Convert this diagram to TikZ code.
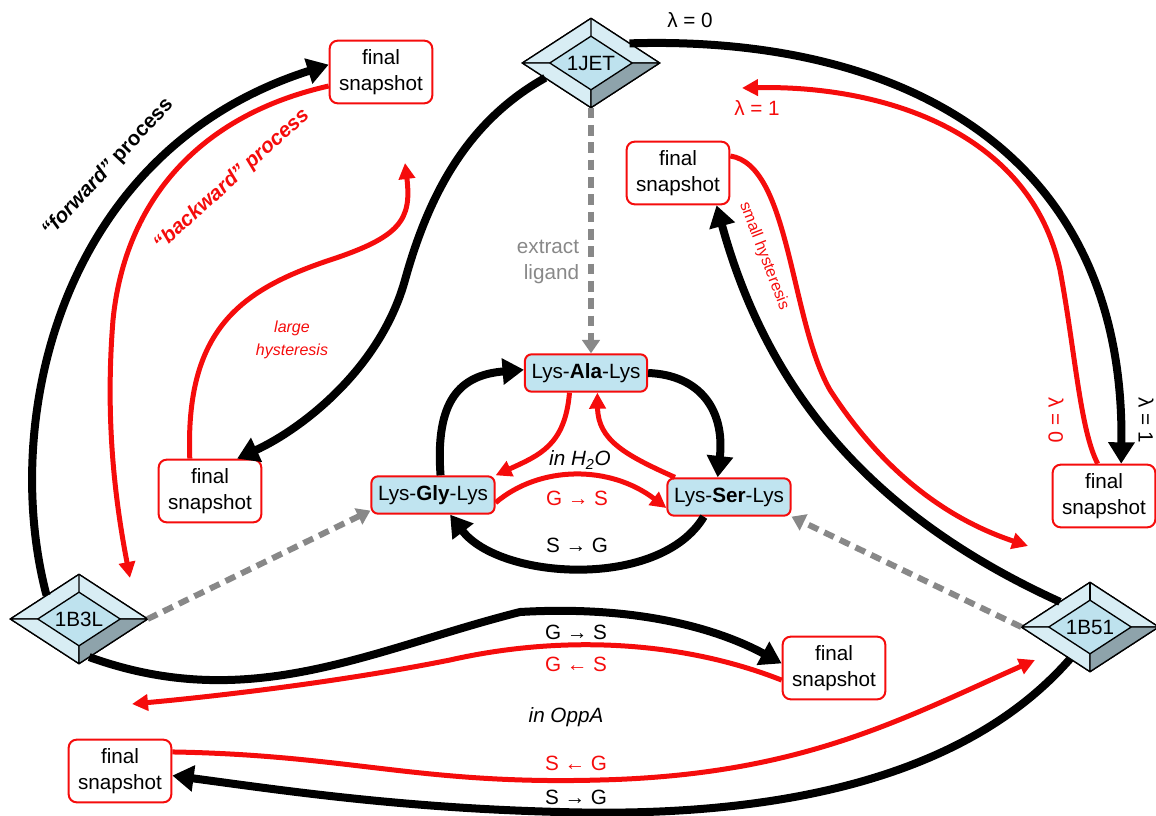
\documentclass[tikz,border=0pt]{standalone}
\usepackage{fontspec}
\setmainfont{Liberation Sans}
\usetikzlibrary{shapes.geometric, calc, arrows.meta}
\definecolor{snapred}{RGB}{245,12,12}
\definecolor{lysblue}{RGB}{192,228,240}
\definecolor{xtalin}{RGB}{190,226,238}
\definecolor{xtalface}{RGB}{216,237,244}
\definecolor{xtaldark}{RGB}{142,163,171}
\definecolor{ligandgray}{RGB}{136,136,136}

\begin{document}
\begin{tikzpicture}[x=0.75pt, y=-0.75pt, font=\fontsize{15.5}{19.5}\selectfont,
    snap/.style={draw=snapred, line width=1.5pt, rounded corners=6pt, fill=white,
      align=center, minimum width=77pt, minimum height=47pt, inner sep=2pt},
    lys/.style={draw=snapred, line width=1.5pt, rounded corners=5pt, fill=lysblue,
      minimum height=28pt, inner xsep=5pt},
    xtal/.style={diamond, draw, line width=1pt, fill=xtalin, minimum width=103pt,
      minimum height=67pt, inner sep=0pt, outer sep=0pt},
    blk/.style={line width=6pt, -{Triangle[length=16pt,width=19pt]}},
    rd/.style={snapred, line width=3.75pt, -{Triangle[length=12pt,width=12pt]}},
    lig/.style={ligandgray, line width=4.5pt, dash pattern=on 8pt off 5pt,
      -{Triangle[length=10pt,width=13pt]}},
    facet/.style={line width=1pt, line join=round}]

  \useasboundingbox (0,0) rectangle (1156,816);

  \node[snap] (snapTL) at (381,72) {final\\snapshot};
  \node[xtal] (jet) at (591,63) {1JET};
  \node[snap] (snapTR) at (678,173) {final\\snapshot};
  \node[lys] (ala) at (586,373) {Lys-\textbf{Ala}-Lys};
  \node[lys] (gly) at (433,495) {Lys-\textbf{Gly}-Lys};
  \node[lys] (ser) at (729,497) {Lys-\textbf{Ser}-Lys};
  \node[snap] (snapML) at (210,491) {final\\snapshot};
  \node[snap] (snapR) at (1104,496) {final\\snapshot};
  \node[xtal] (bthreel) at (79,619) {1B3L};
  \node[xtal] (bfiveone) at (1090,627) {1B51};
  \node[snap] (snapBM) at (834,668) {final\\snapshot};
  \node[snap] (snapBL) at (120,771) {final\\snapshot};

  % bevelled crystal structures
  \foreach \n in {jet,bthreel,bfiveone}{
    \foreach \a in {north,east,south,west}
      \coordinate (\n-\a) at ($(\n.center)!.6!(\n.\a)$);
    \filldraw[facet, fill=xtalface] (\n.west) -- (\n.north) -- (\n.east) -- (\n-east)
      -- (\n-north) -- (\n-west) -- cycle;
    \filldraw[facet, fill=xtalface] (\n.west) -- (\n.south) -- (\n-south) -- (\n-west) -- cycle;
    \filldraw[facet, fill=xtaldark] (\n.east) -- (\n.south) -- (\n-south) -- (\n-east) -- cycle;
    \draw[facet] (\n.north) -- (\n-north);
  }

  \coordinate (bwdend) at (130,578);
  \coordinate (largeend) at (405,163);
  \coordinate (lamend) at (742,88);
  \coordinate (smallend) at (1028,546);
  \coordinate (oppend) at (132,704);
  \coordinate (sgend) at (1035,660);

  \draw[blk] (bthreel.144) .. controls (0,420) and (60,150) .. (snapTL.172);
  \draw[rd] (snapTL.195) .. controls (200,115) and (125,200) .. (113,320)
    .. controls (105,420) and (115,500) .. (bwdend);
  \draw[blk] (jet.198) .. controls (470,120) and (430,190) .. (405,280)
    .. controls (380,370) and (300,430) .. (snapML.50);
  \draw[rd] (snapML.122) .. controls (185,330) and (240,290) .. (330,260)
    .. controls (400,237) and (412,220) .. (largeend);
  \draw[blk] (jet.27) .. controls (900,35) and (1125,150) .. (snapR.62);
  \draw[rd] (snapR.101) .. controls (1080,430) and (1075,350) .. (1060,270)
    .. controls (1030,130) and (880,85) .. (lamend);
  \draw[blk] (bfiveone.140) .. controls (880,520) and (770,400) .. (snapTR.-40);
  \draw[rd] (snapTR.18) .. controls (790,165) and (790,320) .. (830,390)
    .. controls (885,475) and (950,520) .. (smallend);

  \draw[lig] (jet.south) -- (jet.south |- ala.north);
  \draw[lig] (bthreel.east) -- (gly.194);
  \draw[lig] (bfiveone.west) -- (ser.south east);

  \draw[blk] (bthreel.-75) .. controls (250,715) and (370,650) .. (520,612)
    .. controls (640,605) and (720,630) .. (snapBM.175);
  \draw[rd] (snapBM.193) .. controls (680,640) and (560,635) .. (450,660)
    .. controls (350,680) and (230,695) .. (oppend);
  \draw[rd] (snapBL.20) .. controls (350,755) and (420,785) .. (600,780)
    .. controls (800,775) and (900,720) .. (sgend);
  \draw[blk] (bfiveone.238) .. controls (960,785) and (760,818) .. (560,812)
    .. controls (400,808) and (280,790) .. (snapBL.-5);

  % cycle in water
  \draw[blk] (gly.69) .. controls (435,400) and (460,375) .. (ala.177);
  \draw[blk] (ala.east) .. controls (700,375) and (725,410) .. (ser.120);
  \draw[blk] (ser.218) .. controls (660,590) and (500,580) .. (gly.-49);
  \draw[rd] (ala.230) .. controls (565,445) and (540,455) .. (gly.north east);
  \draw[rd] (ser.160) .. controls (625,455) and (598,440) .. (ala.-60);
  \draw[rd] (gly.-7) .. controls (540,465) and (610,465) .. (ser.190);

  \node (lamtop) at (690,20) {λ = 0};
  \node[text=snapred] (lamred) at (757,108) {λ = 1};
  \node[rotate=-90] (lamrone) at (1146,420) {λ = 1};
  \node[text=snapred, rotate=-90] (lamrzero) at (1056,420) {λ = 0};
  \node[text=ligandgray, align=right] (extract) at (548,262) {extract\\ligand};
  \node[rotate=47] (fwdlbl) at (108,168) {\bfseries\textit{“forward”} process};
  \node[text=snapred, rotate=42] (bwdlbl) at (232,180) {\bfseries\textit{“backward” process}};
  \node[text=snapred, align=center, font=\fontsize{12}{17}\selectfont\itshape]
    (largelbl) at (292,340) {large\\hysteresis};
  \node[text=snapred, font=\fontsize{12}{15}\selectfont, rotate=-69]
    (smalllbl) at (764,256) {small hysteresis};
  \node (inwater) at (580,460) {\textit{in H\textsubscript{2}O}};
  \node[text=snapred] (gswater) at (577,498) {G → S};
  \node (sgwater) at (577,545) {S → G};
  \node (gsopp) at (576,632) {G → S};
  \node[text=snapred] (sgoppred) at (576,664) {G ← S};
  \node (inopp) at (566,717) {\textit{in OppA}};
  \node[text=snapred] (gsoppred) at (576,763) {S ← G};
  \node (sgopp) at (576,797) {S → G};
\end{tikzpicture}
\end{document}
